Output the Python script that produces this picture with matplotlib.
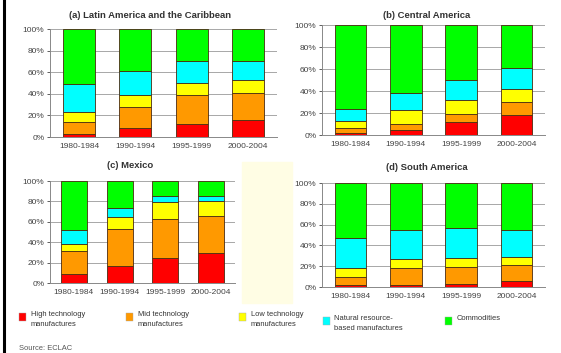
import numpy as np
import matplotlib.pyplot as plt
from matplotlib.patches import Rectangle
from matplotlib.lines import Line2D

W, H = 561, 353

periods = ['1980-1984', '1990-1994', '1995-1999', '2000-2004']
groups = ['High technology\nmanufactures', 'Mid technology\nmanufactures',
          'Low technology\nmanufactures', 'Natural resource-\nbased manufactures',
          'Commodities']
colors = ['#FF0000', '#FF9900', '#FFFF00', '#00FFFF', '#00FF00']

# export shares (%), one row per technology group, one column per period
latam = [[3, 8, 12, 16],
         [11, 20, 27, 25],
         [9, 11, 11, 12],
         [26, 22, 20, 17],
         [51, 39, 30, 30]]
central = [[2, 5, 12, 18],
           [4, 5, 7, 12],
           [7, 13, 13, 12],
           [11, 15, 18, 19],
           [76, 62, 50, 39]]
mexico = [[9, 17, 25, 29],
          [22, 36, 38, 37],
          [7, 12, 16, 14],
          [14, 9, 6, 5],
          [48, 26, 15, 15]]
south = [[2, 2, 3, 6],
         [8, 16, 16, 15],
         [8, 9, 9, 8],
         [29, 28, 29, 26],
         [53, 45, 43, 45]]

fig = plt.figure(figsize=(W / 100, H / 100), dpi=100)
fig.patch.set_facecolor('white')
plt.rcParams['font.family'] = ['Liberation Sans', 'DejaVu Sans']

def px_rect(x0, y0, x1, y1):
    # pixel box (top-left origin) -> figure fraction
    return [x0 / W, 1 - y1 / H, (x1 - x0) / W, (y1 - y0) / H]

# cream block between the lower panels and left border line
fig.patches.append(Rectangle((242 / W, 1 - 303 / H), 50 / W, 141 / H,
                             transform=fig.transFigure, color='#FFFDE4', zorder=0))
fig.lines.append(Line2D([4 / W, 4 / W], [0, 1], transform=fig.transFigure,
                        color='black', lw=2.2))

def panel(data, box, title, title_xy):
    ax = fig.add_axes(px_rect(*box))
    ax.set_facecolor('none')
    x = np.arange(len(periods))
    bottom = np.zeros(len(periods))
    for vals, c in zip(data, colors):
        vals = np.array(vals, dtype=float)
        ax.bar(x, vals, 0.57, bottom=bottom, color=c, edgecolor='#4a2a10',
               linewidth=0.6, zorder=3)
        bottom += vals
    ax.set_xlim(-0.52, 3.52)
    ax.set_ylim(0, 100)
    ax.set_yticks(np.arange(0, 101, 20))
    ax.set_yticklabels(['%d%%' % v for v in range(0, 101, 20)])
    ax.set_xticks(x)
    ax.set_xticklabels(periods)
    ax.yaxis.grid(True, color='#999999', lw=0.6, zorder=0)
    ax.tick_params(labelsize=6, colors='#444444', length=2, width=0.6, pad=2)
    ax.tick_params(axis='x', length=0, pad=4)
    for s in ['top', 'right']:
        ax.spines[s].set_visible(False)
    for s in ['left', 'bottom']:
        ax.spines[s].set_color('#888888')
        ax.spines[s].set_linewidth(0.7)
    fig.text(title_xy[0] / W, 1 - title_xy[1] / H, title, ha='center', va='center',
             fontsize=6.8, fontweight='bold', color='#333333')
    return ax

panel(latam, (50, 29, 277, 137), '(a) Latin America and the Caribbean', (150, 15))
panel(central, (322, 25, 545, 135), '(b) Central America', (427, 15))
panel(mexico, (50, 181, 235, 283), '(c) Mexico', (130, 166))
panel(south, (322, 183, 545, 287), '(d) South America', (427, 168))

# legend row under the panels
legend_pos = [(19, 313, 31, 315), (126, 313, 138, 315), (239, 313, 251, 315),
              (323, 317, 334, 319), (445, 317, 457, 319)]
for (sx, sy, tx, ty), c, lab in zip(legend_pos, colors, groups):
    fig.patches.append(Rectangle((sx / W, 1 - (sy + 8) / H), 7 / W, 8 / H,
                                 transform=fig.transFigure, facecolor=c,
                                 edgecolor='#aaaaaa', lw=0.3))
    fig.text(tx / W, 1 - (ty - 4) / H, lab, ha='left', va='top', fontsize=5.4,
             color='#333333', linespacing=1.6)

fig.text(19 / W, 1 - 349 / H, 'Source: ECLAC', ha='left', va='center',
         fontsize=5.4, color='#555555')

fig.savefig('out.png', dpi=100)
